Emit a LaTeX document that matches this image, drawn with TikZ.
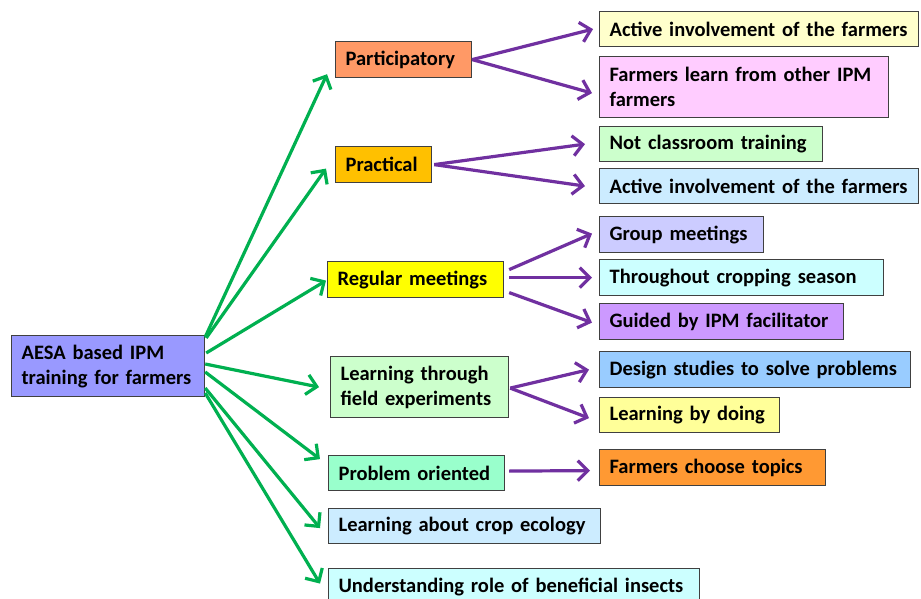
\documentclass[tikz,border=0pt]{standalone}
\usepackage{fontspec}
\setmainfont{Carlito}
\usetikzlibrary{arrows.meta,calc}
\definecolor{cRoot}{HTML}{9999FF}
\definecolor{cPart}{HTML}{FF9966}
\definecolor{cPrac}{HTML}{FFC000}
\definecolor{cReg}{HTML}{FFFF00}
\definecolor{cLearn}{HTML}{CCFFCC}
\definecolor{cProb}{HTML}{99FFCC}
\definecolor{cCrop}{HTML}{CCECFF}
\definecolor{cUnd}{HTML}{CCFFFF}
\definecolor{cAct}{HTML}{FFFFCC}
\definecolor{cFarm}{HTML}{FFCCFF}
\definecolor{cNot}{HTML}{CCFFCC}
\definecolor{cActB}{HTML}{CCECFF}
\definecolor{cGroup}{HTML}{CCCCFF}
\definecolor{cThru}{HTML}{CCFFFF}
\definecolor{cGuide}{HTML}{CC99FF}
\definecolor{cDesign}{HTML}{99CCFF}
\definecolor{cDoing}{HTML}{FFFF99}
\definecolor{cChoose}{HTML}{FF9933}
\definecolor{gArrow}{HTML}{00B050}
\definecolor{pArrow}{HTML}{7030A0}
\tikzset{
  boxnode/.style={draw=black!75, line width=1.2pt, anchor=north west, inner xsep=10pt, inner ysep=0pt,
    align=left, font=\bfseries\fontsize{20.5}{25}\selectfont},
  garrow/.style={draw=gArrow, line width=3.2pt, -{Straight Barb[length=10pt,width=20pt]}},
  parrow/.style={draw=pArrow, line width=3.2pt, -{Straight Barb[length=10pt,width=20pt]}},
}
% \bx{name}{x1}{y1}{x2}{y2}{colour}{text}
\newcommand{\bx}[7]{%
  \pgfmathsetmacro{\bxw}{#4-#2-20}%
  \pgfmathsetmacro{\bxh}{#5-#3}%
  \node[boxnode, fill=#6, text width=\bxw pt, minimum height=\bxh pt] (#1) at (#2,#3) {#7};}
\begin{document}
\begin{tikzpicture}[x=1pt,y=-1pt]
\useasboundingbox[fill=white] (0,0) rectangle (921,599);
% left and middle
\bx{root}{11}{335}{204}{396}{cRoot}{AESA based IPM\\training for farmers}
\bx{part}{335}{41}{471}{77}{cPart}{Participatory}
\bx{prac}{335}{146}{431}{182}{cPrac}{Practical}
\bx{reg}{327}{261}{503}{297}{cReg}{Regular meetings}
\bx{learn}{330}{356}{508}{417}{cLearn}{Learning through\\field experiments}
\bx{prob}{328}{455}{504}{490}{cProb}{Problem oriented}
\bx{crop}{328}{508}{600}{543}{cCrop}{Learning about crop ecology}
\bx{und}{328}{568}{699}{604}{cUnd}{Understanding role of beneficial insects}
% right column
\bx{act}{599}{11}{918}{46}{cAct}{Active involvement of the farmers}
\bx{farm}{599}{56}{888}{117}{cFarm}{Farmers learn from other IPM\\farmers}
\bx{notc}{599}{126}{822}{161}{cNot}{Not classroom training}
\bx{actb}{599}{168}{918}{203}{cActB}{Active involvement of the farmers}
\bx{group}{599}{216}{763}{252}{cGroup}{Group meetings}
\bx{thru}{599}{259}{883}{295}{cThru}{Throughout cropping season}
\bx{guide}{599}{303}{843}{339}{cGuide}{Guided by IPM facilitator}
\bx{design}{599}{351}{910}{387}{cDesign}{Design studies to solve problems}
\bx{doing}{599}{397}{779}{432}{cDoing}{Learning by doing}
\bx{choose}{599}{449}{825}{485}{cChoose}{Farmers choose topics}
% green arrows
\draw[garrow] ($(root.north east)+(0,2)$) -- ($(part.south west)+(-8,-4)$);
\draw[garrow] ($(root.north east)+(1,3)$) -- ($(prac.west)+(-9,4)$);
\draw[garrow] ($(root.north east)+(1,18)$) -- ($(reg.west)+(-1,1)$);
\draw[garrow] ($(root.north east)+(0,29)$) -- ($(learn.west)+(-11,0)$);
\draw[garrow] ($(root.north east)+(0,37)$) -- ($(prob.west)+(-8,-14)$);
\draw[garrow] ($(root.north east)+(0,53)$) -- ($(crop.west)+(-8,2)$);
\draw[garrow] ($(root.north east)+(0,58)$) -- ($(und.west)+(-8,-3)$);
% purple arrows
\draw[parrow] (part.east) -- ($(act.west)+(-6,0)$);
\draw[parrow] (part.east) -- ($(farm.west)+(-7,6)$);
\draw[parrow] ($(prac.east)+(2,0)$) -- ($(notc.west)+(-14,0)$);
\draw[parrow] ($(prac.east)+(2,0)$) -- ($(actb.west)+(-14,0)$);
\draw[parrow] ($(reg.east)+(5,-10)$) -- ($(group.west)+(-7,-1)$);
\draw[parrow] ($(reg.east)+(5,-2)$) -- ($(thru.west)+(-7,0)$);
\draw[parrow] ($(reg.east)+(5,13)$) -- ($(guide.west)+(-7,1)$);
\draw[parrow] ($(learn.east)+(1,1)$) -- ($(design.west)+(-10,0)$);
\draw[parrow] ($(learn.east)+(1,1)$) -- ($(doing.west)+(-10,3)$);
\draw[parrow] ($(prob.east)+(4,-2)$) -- ($(choose.west)+(-9,3)$);
\end{tikzpicture}
\end{document}
